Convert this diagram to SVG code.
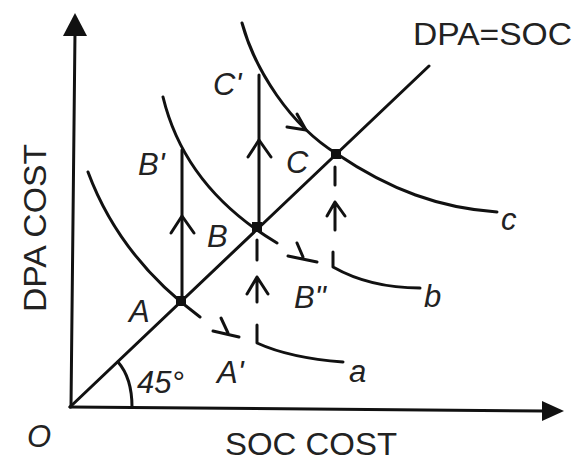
<svg xmlns="http://www.w3.org/2000/svg" width="573" height="462" viewBox="0 0 573 462">
<style>
.ln{fill:none;stroke:#111;stroke-width:3;stroke-linecap:round;stroke-linejoin:round}
.lbl{font-family:"Liberation Sans",Arial,sans-serif;font-style:italic;font-size:31px;fill:#222}
.ax{font-family:"Liberation Sans",Arial,sans-serif;font-size:31px;fill:#222}
.pt{fill:#111}
</style>
<rect width="573" height="462" fill="#fff"/>
<g id="axes">
<path class="ln" d="M71,407 L75,32"/>
<polygon points="75,13 63,36 87,36" fill="#111"/>
<path class="ln" d="M70,407 L545,411"/>
<polygon points="564,411 542,401 542,421" fill="#111"/>
<path class="ln" d="M70,407 L429,66"/>
<path class="ln" d="M118,362 Q132,378 132,407"/>
</g>
<g id="curve-a">
<path class="ln" d="M88,172 Q120,258 200,317"/>
<path class="ln" d="M213,331 L239,337 M221,318 L228,333"/>
<path class="ln" d="M257,325 L257,343 Q290,358 343,362"/>
</g>
<g id="curve-b">
<path class="ln" d="M163,97 Q185,188 277,243"/>
<path class="ln" d="M288,256 L317,262 M297,243 L303,257"/>
<path class="ln" d="M333,252 L333,267 Q370,288 420,288"/>
</g>
<g id="curve-c">
<path class="ln" d="M242,23 C255,70 290,125 337,154 C390,190 440,208 497,212"/>
<path class="ln" d="M297,114 L306,130 L287,127"/>
</g>
<g id="connectors">
<path class="ln" d="M182,302 L182,150"/>
<path class="ln" d="M171,233 L182,216 L194,233"/>
<path class="ln" d="M259,227 L259,75"/>
<path class="ln" d="M248,157 L259,140 L271,157"/>
<path class="ln" d="M257,240 L257,260"/>
<path class="ln" d="M257,302 L257,277 M247,294 L257,277 L268,294"/>
<path class="ln" d="M335,167 L335,185"/>
<path class="ln" d="M335,230 L335,202 M327,216 L335,202 L345,216"/>
</g>
<g id="points">
<rect class="pt" x="176" y="296" width="10" height="10"/>
<rect class="pt" x="252" y="222" width="10" height="10"/>
<rect class="pt" x="331" y="149" width="10" height="10"/>
</g>
<g id="labels">
<text class="ax" x="413" y="45" textLength="159" lengthAdjust="spacingAndGlyphs">DPA=SOC</text>
<text class="ax" x="225" y="455" textLength="172" lengthAdjust="spacingAndGlyphs">SOC COST</text>
<text class="ax" transform="translate(46,312) rotate(-90)" textLength="168" lengthAdjust="spacingAndGlyphs">DPA COST</text>
<text class="lbl" x="27" y="447" font-size="34">O</text>
<text class="lbl" x="137" y="393">45°</text>
<text class="lbl" x="138" y="175">B'</text>
<text class="lbl" x="207" y="247">B</text>
<text class="lbl" x="129" y="322">A</text>
<text class="lbl" x="217" y="383">A'</text>
<text class="lbl" x="294" y="308">B"</text>
<text class="lbl" x="213" y="95">C'</text>
<text class="lbl" x="286" y="173">C</text>
<text class="lbl" x="349" y="382">a</text>
<text class="lbl" x="424" y="307">b</text>
<text class="lbl" x="501" y="230">c</text>
</g>
</svg>
